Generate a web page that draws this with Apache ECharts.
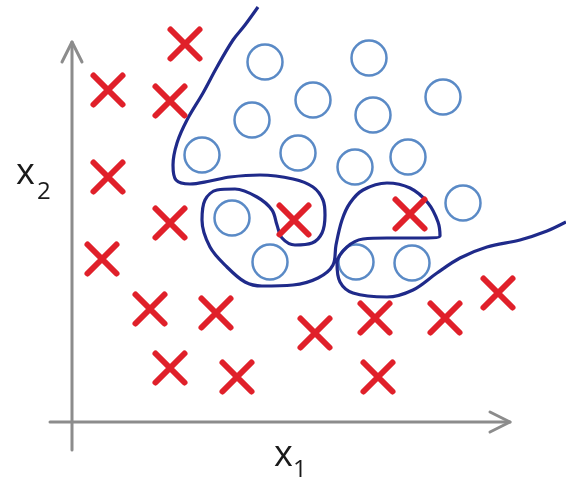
<!DOCTYPE html>
<html>
<head>
<meta charset="utf-8">
<script src="https://cdn.jsdelivr.net/npm/echarts@6/dist/echarts.min.js"></script>
<style>html,body{margin:0;padding:0;background:#fff;}#c{width:566px;height:481px;}</style>
</head>
<body>
<div id="c"></div>
<script>
// Class "x" samples (x1, x2)
var crossPoints = [
  [11.3, 37.8], [3.6, 33.2], [9.8, 32.1], [3.6, 24.5], [9.8, 19.9],
  [3.0, 16.3], [7.8, 11.3], [14.4, 10.9], [9.8, 5.4], [16.5, 4.5],
  [22.2, 20.2], [33.8, 20.8], [24.3, 8.9], [30.3, 10.4], [37.3, 10.4],
  [42.6, 12.9], [30.6, 4.5]
];
// Class "o" samples (x1, x2)
var circlePoints = [
  [19.3, 36.0], [29.7, 36.4], [24.1, 32.2], [30.1, 30.7], [37.1, 32.5],
  [18.0, 30.2], [13.0, 26.7], [22.6, 26.9], [28.3, 25.5], [33.6, 26.5],
  [39.1, 21.9], [16.0, 20.4], [19.8, 16.0], [28.4, 16.0], [34.0, 15.9]
];
// Over-fitted decision boundary (ordered path)
var boundaryPoints = [
  [18.6, 41.5], [17.3, 39.7], [16.1, 38.2], [14.5, 35.5], [13.1, 32.9],
  [11.5, 30.2], [10.5, 27.9], [10.1, 25.7], [10.4, 24.2], [11.8, 23.8],
  [13.8, 24.1], [15.8, 24.5], [18.8, 24.7], [22.1, 24.3], [24.1, 23.5],
  [25.1, 22.2], [25.3, 20.7], [25.0, 18.9], [24.0, 17.9], [22.3, 17.7],
  [21.0, 18.4], [20.5, 19.7], [20.0, 21.2], [18.5, 22.5], [16.3, 23.3],
  [14.5, 23.2], [13.3, 22.2], [13.0, 20.2], [13.8, 17.5], [15.5, 15.5],
  [17.3, 14.0], [19.0, 13.6], [22.1, 13.7], [24.6, 14.4], [26.1, 15.7],
  [26.4, 17.7], [27.0, 20.2], [27.8, 21.9], [29.1, 23.2], [31.5, 23.9],
  [33.8, 23.4], [35.6, 21.9], [36.6, 20.0], [36.8, 18.6], [34.8, 18.4],
  [31.5, 18.4], [29.1, 18.3], [27.5, 17.5], [26.5, 15.9], [26.8, 14.0],
  [28.1, 12.9], [31.5, 12.5], [34.1, 13.2], [36.5, 14.9], [38.8, 16.4],
  [41.5, 17.5], [44.8, 18.2], [47.5, 19.1], [49.4, 20.0]
];
// Axis arrows
var x1AxisLine = [[-2.2, 0], [43.8, 0]];
var x1ArrowHead = [[41.8, 1.0], [43.8, 0], [41.8, -1.0]];
var x2AxisLine = [[0, -2.8], [0, 38.0]];
var x2ArrowHead = [[-1.0, 36.0], [0, 38.0], [1.0, 36.0]];
var axisLabels = ['x', '1', 'x', '2'];

var chart = echarts.init(document.getElementById('c'), null, {renderer: 'canvas'});
var gray = '#8c8c8c';
function axisSeries(data) {
  return {
    type: 'line', data: data, symbol: 'none', silent: true, z: 1,
    lineStyle: {color: gray, width: 3, cap: 'round', join: 'round'}
  };
}
chart.setOption({
  animation: false,
  backgroundColor: '#ffffff',
  grid: {left: 0, right: 0, top: 0, bottom: 0},
  xAxis: {type: 'value', min: -7.2, max: 49.4, show: false},
  yAxis: {type: 'value', min: -5.9, max: 42.2, show: false},
  graphic: [
    {type: 'text', left: 16, top: 156, style: {text: axisLabels[2], font: '36px "Open Sans"', fill: '#1a1a1a'}},
    {type: 'text', left: 37, top: 180, style: {text: axisLabels[3], font: '24px "Open Sans"', fill: '#1a1a1a'}},
    {type: 'text', left: 274, top: 438, style: {text: axisLabels[0], font: '36px "Open Sans"', fill: '#1a1a1a'}},
    {type: 'text', left: 293, top: 458, style: {text: axisLabels[1], font: '24px "Open Sans"', fill: '#1a1a1a'}}
  ],
  series: [
    axisSeries(x1AxisLine), axisSeries(x1ArrowHead),
    axisSeries(x2AxisLine), axisSeries(x2ArrowHead),
    {
      type: 'scatter', data: circlePoints, symbol: 'circle', symbolSize: 35, z: 2,
      itemStyle: {color: 'rgba(255,255,255,0)', borderColor: '#5a8ac6', borderWidth: 2.5, opacity: 1}
    },
    {
      type: 'line', data: boundaryPoints, symbol: 'none', smooth: 0.35, z: 3,
      lineStyle: {color: '#1f2a8a', width: 3.2}
    },
    {
      type: 'scatter', data: crossPoints, z: 4,
      symbol: 'path://M0,0L10,10M10,0L0,10', symbolSize: 29,
      itemStyle: {color: 'none', borderColor: '#e0202a', borderWidth: 6, borderCap: 'round', opacity: 1}
    }
  ]
});
</script>
</body>
</html>
